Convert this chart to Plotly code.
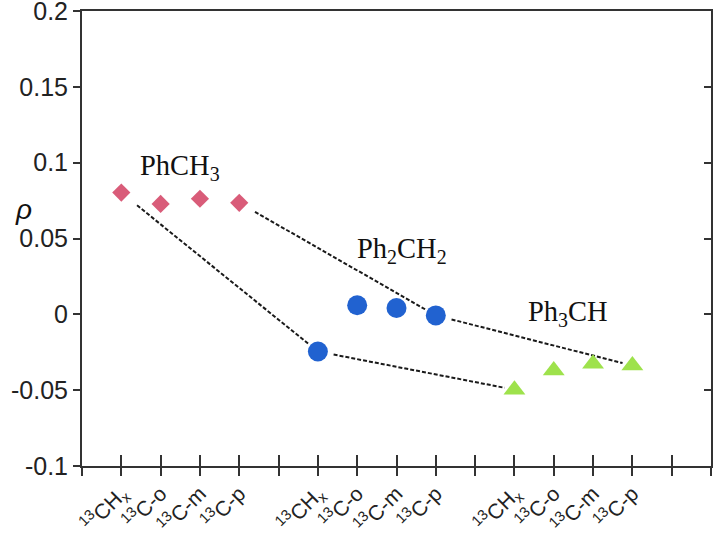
import plotly.graph_objects as go

# ---- data ----
tick_positions = list(range(0, 17))
tick_labels = ["", "<sup>13</sup>CH<sub>x</sub>", "<sup>13</sup>C-o", "<sup>13</sup>C-m", "<sup>13</sup>C-p", "",
               "<sup>13</sup>CH<sub>x</sub>", "<sup>13</sup>C-o", "<sup>13</sup>C-m", "<sup>13</sup>C-p", "",
               "<sup>13</sup>CH<sub>x</sub>", "<sup>13</sup>C-o", "<sup>13</sup>C-m", "<sup>13</sup>C-p", "", ""]

phch3_x = [1, 2, 3, 4]
phch3_y = [0.0803, 0.0728, 0.0762, 0.0735]
ph2ch2_x = [6, 7, 8, 9]
ph2ch2_y = [-0.0245, 0.0060, 0.0042, -0.0007]
ph3ch_x = [11, 12, 13, 14]
ph3ch_y = [-0.0497, -0.0370, -0.0325, -0.0338]

y_ticks = [-0.1, -0.05, 0, 0.05, 0.1, 0.15, 0.2]
y_tick_labels = ["-0.1", "-0.05", "0", "0.05", "0.1", "0.15", "0.2"]

group_labels = ["PhCH<sub>3</sub>", "Ph<sub>2</sub>CH<sub>2</sub>", "Ph<sub>3</sub>CH"]
group_label_x = [2.5, 8.15, 12.35]
group_label_y = [0.097, 0.042, 0.0007]

# ---- figure ----
fig = go.Figure()

# dotted connectors (13CHx -> 13CHx and 13C-p -> 13C-p of successive groups)
def seg(xa, ya, xb, yb, f0=0.08, f1=0.05):
    dx, dy = xb - xa, yb - ya
    return [xa + f0 * dx, xb - f1 * dx], [ya + f0 * dy, yb - f1 * dy]

pairs = [
    (phch3_x[0], phch3_y[0], ph2ch2_x[0], ph2ch2_y[0]),
    (phch3_x[3], phch3_y[3], ph2ch2_x[3], ph2ch2_y[3]),
    (ph2ch2_x[0], ph2ch2_y[0], ph3ch_x[0], ph3ch_y[0]),
    (ph2ch2_x[3], ph2ch2_y[3], ph3ch_x[3], ph3ch_y[3]),
]
for xa, ya, xb, yb in pairs:
    sx, sy = seg(xa, ya, xb, yb)
    fig.add_trace(go.Scatter(x=sx, y=sy, mode="lines",
                             line=dict(color="#1a1a1a", width=2, dash="4px,2px"),
                             showlegend=False, hoverinfo="skip"))

fig.add_trace(go.Scatter(x=phch3_x, y=phch3_y, mode="markers",
                         marker=dict(symbol="diamond", size=14, color="#d95c79"),
                         showlegend=False))
fig.add_trace(go.Scatter(x=ph2ch2_x, y=ph2ch2_y, mode="markers",
                         marker=dict(symbol="circle", size=20, color="#2162d0"),
                         showlegend=False))
fig.add_trace(go.Scatter(x=ph3ch_x, y=ph3ch_y, mode="markers",
                         marker=dict(symbol="triangle-up", size=19, color="#9ee24c"),
                         showlegend=False))
# helper trace so the overlay axes (inside ticks) are drawn
fig.add_trace(go.Scatter(x=[None], y=[None], xaxis="x2", yaxis="y2",
                         showlegend=False, hoverinfo="skip"))

for t, gx, gy in zip(group_labels, group_label_x, group_label_y):
    fig.add_annotation(x=gx, y=gy, xref="x", yref="y", text=t, showarrow=False,
                       font=dict(family="Liberation Serif", size=28.5, color="#111111"))

fig.add_annotation(x=-0.11, y=0.069, xref="paper", yref="y", text="<i>ρ</i>",
                   showarrow=False, font=dict(family="Liberation Sans", size=28, color="#111111"))

axis_color = "#333333"
yr = [-0.1, 0.20001]
fig.update_layout(
    width=715, height=538,
    margin=dict(l=82, r=4, t=11, b=72),
    paper_bgcolor="white", plot_bgcolor="white",
    font=dict(family="Liberation Sans", color="#222222"),
    xaxis=dict(range=[0, 16], tickmode="array", tickvals=tick_positions, ticktext=tick_labels,
               tickangle=-45, ticks="outside", ticklen=8, tickwidth=1.5, tickcolor=axis_color,
               showline=True, linecolor=axis_color, linewidth=2, mirror=True, automargin=False,
               ticklabeloverflow="allow", ticklabelstandoff=-3,
               showgrid=False, zeroline=False, tickfont=dict(size=21, color="#222222")),
    xaxis2=dict(range=[0, 16], overlaying="x", anchor="y2", side="bottom", tickmode="array",
                tickvals=tick_positions, ticks="inside", ticklen=11, tickwidth=1.5,
                tickcolor=axis_color, showticklabels=False, showline=False, automargin=False,
                showgrid=False, zeroline=False),
    yaxis=dict(range=yr, tickmode="array", tickvals=y_ticks, ticktext=y_tick_labels,
               ticks="outside", ticklen=7, tickwidth=1.5, tickcolor=axis_color,
               showline=True, linecolor=axis_color, linewidth=2, mirror=True, automargin=False,
               ticklabeloverflow="allow",
               showgrid=False, zeroline=False, tickfont=dict(size=25, color="#222222")),
    yaxis2=dict(range=yr, overlaying="y", side="right", anchor="x2", tickmode="array",
                tickvals=y_ticks, ticks="inside", ticklen=7, tickwidth=1.5, tickcolor=axis_color,
                showticklabels=False, showline=False, showgrid=False, zeroline=False,
                automargin=False),
)

fig.write_html("out.html", config={"displayModeBar": False},
               post_script="document.body.style.margin='0';")
